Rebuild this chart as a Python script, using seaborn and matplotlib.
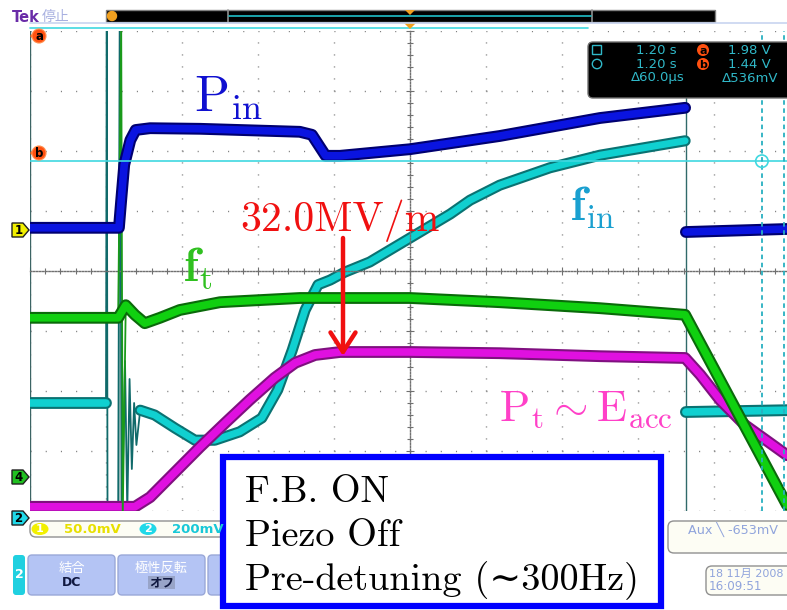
import numpy as np
import pandas as pd
import matplotlib
matplotlib.use("Agg")
import matplotlib.pyplot as plt
import seaborn as sns
from matplotlib.patches import FancyBboxPatch, Rectangle, Polygon, Circle, Ellipse
from matplotlib.ticker import MultipleLocator, NullFormatter

sns.set_theme(style="white")
plt.rcParams['font.family'] = ['DejaVu Sans', 'Noto Sans CJK JP']
plt.rcParams['mathtext.fontset'] = 'cm'

# ---------------- data (time and amplitude in screen divisions) ----------------
# P_in (blue): during the pulse, and after the pulse
pin_t = [0.00, 1.17, 1.20, 1.24, 1.32, 1.39, 1.58, 2.24, 3.55, 3.71, 3.89, 4.08,
         5.00, 6.18, 7.50, 8.62]
pin_v = [0.72, 0.72, 1.18, 1.77, 2.18, 2.35, 2.38, 2.37, 2.32, 2.27, 1.92, 1.92,
         2.03, 2.25, 2.55, 2.72]
pin_after_t = [8.63, 9.96]
pin_after_v = [0.65, 0.70]

# f_t (green)
ft_t = [0.00, 1.16, 1.26, 1.38, 1.51, 1.71, 1.97, 2.50, 3.55, 5.00, 6.18, 7.50,
        8.62, 9.96]
ft_v = [-0.78, -0.78, -0.57, -0.73, -0.87, -0.78, -0.65, -0.52, -0.45, -0.45,
        -0.52, -0.62, -0.73, -3.90]
ft_burst_t = [1.16, 1.20, 1.22, 1.26]
ft_burst_v = [-0.78, 4.10, -4.10, -0.57]

# P_t ~ E_acc (magenta)
pt_t = [0.00, 1.38, 1.58, 1.91, 2.24, 2.57, 2.89, 3.22, 3.49, 3.75, 4.08, 5.00,
        6.18, 7.50, 8.62, 8.82, 9.08, 9.41, 9.96]
pt_v = [-3.93, -3.93, -3.77, -3.35, -2.93, -2.53, -2.15, -1.78, -1.53, -1.40,
        -1.35, -1.35, -1.37, -1.42, -1.45, -1.73, -2.15, -2.57, -3.07]

# f_in (cyan)
fin_t = [0.00, 1.00]
fin_v = [-2.20, -2.20]
fin_burst_t = [1.00, 1.01, 1.02, 1.16, 1.18, 1.21, 1.25, 1.28, 1.31, 1.34, 1.37,
               1.40, 1.45]
fin_burst_v = [-2.20, 4.10, -4.10, -4.10, 4.10, -4.10, -1.50, -4.00, -1.80,
               -3.30, -2.20, -2.90, -2.32]
fin2_t = [1.45, 1.64, 1.91, 2.17, 2.43, 2.76, 3.05, 3.26, 3.45, 3.62, 3.79, 3.95,
          4.14, 4.47, 5.00, 5.53, 5.79, 6.18, 6.84, 7.50, 8.62]
fin2_v = [-2.32, -2.40, -2.62, -2.82, -2.82, -2.68, -2.45, -1.98, -1.32, -0.65,
          -0.23, -0.15, -0.02, 0.15, 0.55, 0.95, 1.18, 1.43, 1.72, 1.93, 2.17]
fin_after_t = [8.63, 9.96]
fin_after_v = [-2.35, -2.32]

cursor_h = [4.05, 1.83]      # horizontal cursors a, b (div)
cursor_v = [9.63, 9.92]      # vertical cursors (div)

readout_rows = [("1.20 s", "a", "1.98 V"), ("1.20 s", "b", "1.44 V")]
readout_delta = ("\u039460.0\u00b5s", "\u0394536mV")
ch_scales = [("1", "50.0mV", "#e8e000", "#f2f000"), ("2", "200mV", "#18c8d8", "#20d8e8")]

# ---------------- figure ----------------
W, H = 787, 610
fig = plt.figure(figsize=(W / 100, H / 100), dpi=100)
fig.patch.set_facecolor("white")

ax = fig.add_axes([30 / W, (H - 511) / H, 757 / W, 480 / H])
ax.set_xlim(0, 757 / 76)
ax.set_ylim(-4, 4)
ax.set_facecolor("white")
for s in ["top", "right"]:
    ax.spines[s].set_visible(False)
ax.spines["left"].set_position(("data", 5))
ax.spines["bottom"].set_position(("data", 0))
for s in ["left", "bottom"]:
    ax.spines[s].set_color("#707070")
    ax.spines[s].set_linestyle((0, (1, 1.2)))
    ax.spines[s].set_linewidth(1.0)
ax.xaxis.set_major_locator(MultipleLocator(1))
ax.xaxis.set_minor_locator(MultipleLocator(0.2))
ax.yaxis.set_major_locator(MultipleLocator(1))
ax.yaxis.set_minor_locator(MultipleLocator(0.2))
ax.xaxis.set_major_formatter(NullFormatter())
ax.yaxis.set_major_formatter(NullFormatter())
ax.tick_params(which="both", direction="inout", color="#707070", width=0.8,
               bottom=True, left=True, labelbottom=False, labelleft=False)
ax.tick_params(which="major", length=6)
ax.tick_params(which="minor", length=4)

# graticule dots
for k in range(0, 11):
    if k != 5:
        ax.axvline(k, color="#808080", lw=1.0, ls=(0, (0.8, 7.84)), zorder=0)
for k in range(-4, 5):
    if k != 0:
        ax.axhline(k, color="#808080", lw=1.0, ls=(0, (0.8, 10.14)), zorder=0)
ax.axvline(0, color="#3c6464", lw=1.0, zorder=1)

# light vertical lines near the start and the end of the pulse
ax.axvline(1.19, color="#a8c0c0", lw=2.0, zorder=1)
ax.axvline(8.63, color="#306a6a", lw=1.0, ymin=0.0, ymax=0.88, zorder=1)


def band(t, v, bright, dark, lw=5.5, z=2):
    sns.lineplot(x=t, y=v, ax=ax, sort=False, estimator=None, color=dark,
                 lw=lw + 3.0, zorder=z, legend=False)
    sns.lineplot(x=t, y=v, ax=ax, sort=False, estimator=None, color=bright,
                 lw=lw, zorder=z + 0.1, legend=False)


CY, CYD = "#10d0d0", "#0a7272"
# cyan f_in
sns.lineplot(x=fin_burst_t, y=fin_burst_v, ax=ax, sort=False, estimator=None,
             color="#106a6a", lw=1.3, zorder=2, legend=False)
band(fin_t, fin_v, CY, CYD, z=2.2)
band(fin2_t, fin2_v, CY, CYD, lw=5.0, z=2.2)
band(fin_after_t, fin_after_v, CY, CYD, z=2.2)
# magenta P_t
band(pt_t, pt_v, "#e010e0", "#801080", z=3)
# green f_t
sns.lineplot(x=ft_burst_t, y=ft_burst_v, ax=ax, sort=False, estimator=None,
             color="#1a9a1a", lw=1.3, zorder=3.5, legend=False)
band(ft_t, ft_v, "#10d010", "#0a6a0a", z=3.6)
# blue P_in
band(pin_t, pin_v, "#0a14e0", "#000070", z=4)
band(pin_after_t, pin_after_v, "#0a14e0", "#000070", z=4)

# cursors
ax.axhline(cursor_h[1], color="#40d8e0", lw=1.2, zorder=5)
for cv in cursor_v:
    ax.axvline(cv, color="#28b0c0", lw=1.3, ls=(0, (2.5, 2)), zorder=5)
ax.plot([0, (588 - 30) / 76], [cursor_h[0]] * 2, color="#40d8e0", lw=1.2,
        clip_on=False, zorder=5)
ax.scatter([cursor_v[0]], [cursor_h[1]], s=80, facecolor="none",
           edgecolor="#40d8e0", lw=1.2, zorder=6, clip_on=False)

# ---------------- overlay (screen decorations, pixel coordinates) ----------------
ov = fig.add_axes([0, 0, 1, 1])
ov.set_xlim(0, W)
ov.set_ylim(H, 0)
ov.axis("off")
ov.set_zorder(10)

# top status bar
ov.text(12, 17, "Tek", color="#6a2ca8", fontsize=10.5, fontweight="bold",
        va="center", ha="left")
ov.text(42, 17, "停止", color="#a8b0e0", fontsize=10, va="center", ha="left")
ov.add_patch(Rectangle((106, 10), 609, 12, fc="black", ec="#808080", lw=1))
ov.plot([228, 228], [10, 22], color="#909090", lw=1.2)
ov.plot([592, 592], [10, 22], color="#909090", lw=1.2)
ov.plot([229, 591], [16, 16], color="#20c0c8", lw=1.2)
ov.add_patch(Circle((112, 16), 4.5, fc="#f0a020", ec="#f0a020"))
ov.add_patch(Polygon([(405, 10), (415, 10), (410, 15)], fc="#f0a020", ec="none"))
ov.add_patch(Polygon([(404, 23), (416, 23), (410, 29)], fc="#f0a020", ec="none"))
ov.plot([30, 787], [23, 23], color="#c8d4f0", lw=1.2)

# channel / cursor markers at left
for (cy, lab) in [(36, "a"), (153, "b")]:
    ov.add_patch(Polygon([(30, cy), (34, cy - 4), (34, cy + 4)], fc="#ff6010", ec="none"))
    ov.add_patch(Circle((39, cy), 7, fc="#ff5010", ec="#ff9050", lw=0.8))
    ov.text(39, cy + 0.5, lab, color="black", fontsize=8.5, fontweight="bold",
            ha="center", va="center")
for (cy, lab, fc) in [(230, "1", "#f2f000"), (477, "4", "#20c020"), (518, "2", "#20d8e8")]:
    ov.add_patch(Polygon([(12, cy - 7), (23, cy - 7), (29, cy), (23, cy + 7), (12, cy + 7)],
                         fc=fc, ec="#202020", lw=1))
    ov.text(18.5, cy + 0.5, lab, color="black", fontsize=8.5, fontweight="bold",
            ha="center", va="center")

# readout panel
ov.add_patch(FancyBboxPatch((588, 42), 230, 56, boxstyle="round,pad=0,rounding_size=5",
                            fc="black", ec="#707070", lw=1))
rc = "#30b8c8"
ov.add_patch(Rectangle((592, 45), 9, 9, fc="none", ec=rc, lw=1))
ov.add_patch(Circle((597, 64), 4.7, fc="none", ec=rc, lw=1))
for i, (tval, lab, vval) in enumerate(readout_rows):
    yy = 50 + 14 * i
    ov.text(677, yy, tval, color=rc, fontsize=9.5, ha="right", va="center")
    ov.add_patch(Circle((703, yy), 6, fc="#ff5010", ec="none"))
    ov.text(703, yy + 0.5, lab, color="black", fontsize=8, fontweight="bold",
            ha="center", va="center")
    ov.text(771, yy, vval, color=rc, fontsize=9.5, ha="right", va="center")
ov.text(685, 78, readout_delta[0], color=rc, fontsize=9.5, ha="right", va="center")
ov.text(778, 78, readout_delta[1], color=rc, fontsize=9.5, ha="right", va="center")

# bottom channel-scale strip
ov.add_patch(FancyBboxPatch((30, 521), 300, 16, boxstyle="round,pad=0,rounding_size=6",
                            fc="#fdfdf4", ec="#909090", lw=1))
xs = [40, 148]
for (num, txt, tc, fc), x0 in zip(ch_scales, xs):
    ov.add_patch(Ellipse((x0, 529), 17, 12, fc=fc, ec="none"))
    ov.text(x0, 529.5, num, color="white", fontsize=8, fontweight="bold",
            ha="center", va="center")
    ov.text(x0 + 24, 529.5, txt, color=tc, fontsize=9.5, fontweight="bold",
            ha="left", va="center")
ov.add_patch(FancyBboxPatch((668, 521), 140, 32, boxstyle="round,pad=0,rounding_size=6",
                            fc="#fdfdf4", ec="#909090", lw=1))
ov.text(688, 529, "Aux \u2572 -653mV", color="#90a4dc", fontsize=9.2,
        ha="left", va="center")
ov.add_patch(FancyBboxPatch((706, 566), 100, 29, boxstyle="round,pad=0,rounding_size=6",
                            fc="#fdfdf4", ec="#909090", lw=1))
ov.text(709, 574, "18 11月 2008", color="#90a4dc", fontsize=8.0,
        ha="left", va="center", family=["DejaVu Sans", "Noto Sans CJK JP"])
ov.text(709, 587, "16:09:51", color="#90a4dc", fontsize=8.6, ha="left", va="center")

# buttons
ov.add_patch(FancyBboxPatch((13, 555), 12, 40, boxstyle="round,pad=0,rounding_size=3",
                            fc="#20d0e0", ec="none"))
ov.text(19, 575, "2", color="white", fontsize=9, fontweight="bold", ha="center", va="center")
for x0, top, bot in [(28, "結合", "DC"), (118, "極性反転", "オフ"), (208, "", "")]:
    ov.add_patch(FancyBboxPatch((x0, 555), 87, 40, boxstyle="round,pad=0,rounding_size=4",
                                fc="#b4c4f4", ec="#9aa8d8", lw=1))
    if top:
        ov.text(x0 + 43.5, 568, top, color="white", fontsize=9.5, ha="center", va="center",
                family=["Noto Sans CJK JP"])
        if bot == "オフ":
            ov.add_patch(Rectangle((x0 + 30, 576), 27, 13, fc="#98a4c8", ec="none"))
        ov.text(x0 + 43.5, 582.5, bot, color="#101840", fontsize=9, fontweight="bold",
                ha="center", va="center", family=["DejaVu Sans", "Noto Sans CJK JP"])

# annotations
ov.text(194, 111, r"$\mathrm{P}_{\mathrm{in}}$", color="#1010d0", fontsize=37,
        ha="left", va="baseline")
ov.text(570, 221, r"$\mathbf{f}_{\mathrm{in}}$", color="#1aa0d0", fontsize=34,
        ha="left", va="baseline")
ov.text(183, 281, r"$\mathbf{f}_{\mathrm{t}}$", color="#30c020", fontsize=34,
        ha="left", va="baseline")
ov.text(240, 231, "32.0MV/m", color="#f01010", fontsize=30, family="cmr10",
        ha="left", va="baseline")
ov.annotate("", xy=(343, 356), xytext=(343, 238),
            arrowprops=dict(arrowstyle="->,head_length=0.7,head_width=0.45",
                            color="#f01010", lw=3.2, mutation_scale=20,
                            shrinkA=0, shrinkB=0))
ov.text(499, 420, r"$\mathrm{P}_{\mathrm{t}}\sim\mathrm{E}_{\mathrm{acc}}$",
        color="#ff40c8", fontsize=32, ha="left", va="baseline")

# F.B. box
ov.add_patch(Rectangle((223, 457), 438, 149, fc="white", ec="#0000ff", lw=4.5))
for yy, line in [(502, "F.B. ON"), (546, "Piezo Off"), (590, "Pre-detuning (\u223c300Hz)")]:
    ov.text(245, yy, line, color="black", fontsize=27.5, family=["cmr10", "DejaVu Serif"],
            ha="left", va="baseline")

fig.savefig("out.png", dpi=100, facecolor="white")
